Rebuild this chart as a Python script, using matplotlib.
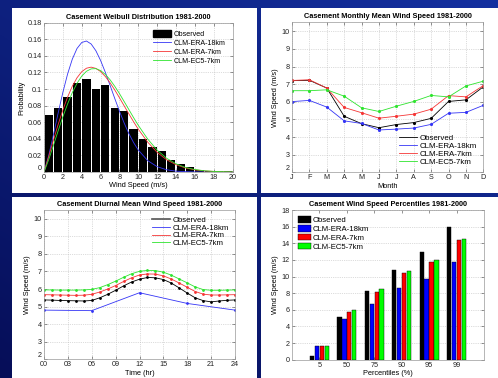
import numpy as np
import matplotlib.pyplot as plt
from matplotlib.patches import Rectangle, Patch
from matplotlib.lines import Line2D
from matplotlib.ticker import FormatStrFormatter

plt.rcParams['font.family'] = ['Liberation Sans', 'DejaVu Sans']

# --- Weibull distribution (top left) ---
bin_centres = [0.5, 1.5, 2.5, 3.5, 4.5, 5.5, 6.5, 7.5, 8.5, 9.5,
               10.5, 11.5, 12.5, 13.5, 14.5, 15.5, 16.5, 17.5, 18.5, 19.5]
obs_prob = [0.069, 0.077, 0.091, 0.107, 0.112, 0.100, 0.105, 0.077, 0.073, 0.052,
            0.040, 0.030, 0.025, 0.015, 0.010, 0.006, 0.003, 0.001, 0.0015, 0.0008]
ws = [0, 0.5, 1, 1.5, 2, 2.5, 3, 3.5, 4, 4.5, 5, 5.5, 6, 6.5, 7, 7.5, 8, 8.5,
      9, 9.5, 10, 11, 12, 13, 14, 15, 16, 17, 18, 19, 20]
pdf_era18 = [0, 0.0199, 0.0450, 0.0711, 0.0960, 0.1181, 0.1360, 0.1489, 0.1561, 0.1579,
             0.1543, 0.1462, 0.1345, 0.1203, 0.1047, 0.0888, 0.0734, 0.0591, 0.0463, 0.0355,
             0.0265, 0.0137, 0.0064, 0.0027, 0.0010, 0.0004, 0.0001, 0, 0, 0, 0]
pdf_era7 = [0, 0.0188, 0.0384, 0.0573, 0.0748, 0.0903, 0.1034, 0.1136, 0.1209, 0.1251,
            0.1264, 0.1249, 0.1211, 0.1152, 0.1077, 0.0990, 0.0896, 0.0798, 0.0701, 0.0606,
            0.0516, 0.0360, 0.0237, 0.0148, 0.0088, 0.0049, 0.0026, 0.0013, 0.0007, 0.0003, 0.0001]
pdf_ec5 = [0, 0.0150, 0.0322, 0.0497, 0.0666, 0.0820, 0.0957, 0.1069, 0.1156, 0.1214,
           0.1243, 0.1246, 0.1223, 0.1177, 0.1113, 0.1034, 0.0946, 0.0850, 0.0753, 0.0656,
           0.0563, 0.0397, 0.0264, 0.0166, 0.0099, 0.0055, 0.0030, 0.0015, 0.0007, 0.0003, 0.0001]

# --- monthly mean (top right) ---
months = ['J', 'F', 'M', 'A', 'M', 'J', 'J', 'A', 'S', 'O', 'N', 'D']
mon_obs = [7.20, 7.22, 6.78, 5.18, 4.76, 4.53, 4.71, 4.82, 5.06, 6.02, 6.11, 6.85]
mon_era18 = [6.01, 6.08, 5.70, 4.92, 4.77, 4.40, 4.45, 4.51, 4.72, 5.35, 5.40, 5.80]
mon_era7 = [7.21, 7.25, 6.78, 5.68, 5.38, 5.07, 5.18, 5.30, 5.58, 6.35, 6.28, 6.92]
mon_ec5 = [6.63, 6.63, 6.68, 6.32, 5.66, 5.45, 5.75, 6.02, 6.36, 6.28, 6.90, 7.17]

# --- diurnal mean (bottom left) ---
hours = list(range(25))
di_obs = [5.38, 5.37, 5.35, 5.34, 5.33, 5.32, 5.35, 5.50, 5.70, 5.93, 6.18, 6.40, 6.56,
          6.66, 6.64, 6.54, 6.34, 6.06, 5.77, 5.50, 5.34, 5.27, 5.32, 5.36, 5.38]
di_era7 = [5.68, 5.67, 5.66, 5.65, 5.64, 5.65, 5.70, 5.83, 6.00, 6.20, 6.43, 6.64, 6.80,
           6.86, 6.85, 6.75, 6.57, 6.34, 6.10, 5.86, 5.71, 5.66, 5.66, 5.67, 5.68]
di_ec5 = [5.95, 5.95, 5.94, 5.94, 5.94, 5.95, 5.98, 6.08, 6.25, 6.45, 6.67, 6.87, 7.01,
          7.06, 7.05, 6.96, 6.79, 6.57, 6.35, 6.12, 5.97, 5.93, 5.93, 5.94, 5.95]
hours6 = [0, 6, 12, 18, 24]
di_era18 = [4.80, 4.77, 5.79, 5.18, 4.80]

# --- percentiles (bottom right) ---
pct_labels = ['5', '50', '75', '90', '95', '99']
pct_obs = [0.48, 5.17, 8.26, 10.83, 12.91, 16.0]
pct_era18 = [1.60, 4.86, 6.74, 8.62, 9.70, 11.79]
pct_era7 = [1.60, 5.73, 8.10, 10.38, 11.79, 14.35]
pct_ec5 = [1.68, 6.02, 8.46, 10.63, 11.95, 14.47]

names = ['CLM-ERA-18km', 'CLM-ERA-7km', 'CLM-EC5-7km']
line_cols = ['#3535f5', '#f53535', '#2ee42e']
bar_cols = ['#0000ff', '#ff0000', '#00ff00']

fig = plt.figure(figsize=(4.98, 3.78), dpi=100)

# blue slide background with white panels
bg = fig.add_axes([0, 0, 1, 1])
bg.axis('off')
yy, xx = np.mgrid[0:1:200j, 0:1:200j]
t = np.clip(0.55 * yy + 0.45 * (1 - xx), 0, 1)[..., None]
top = np.array([20, 48, 160]) / 255
bot = np.array([6, 14, 88]) / 255
bg.imshow(top * (1 - t) + bot * t, extent=[0, 1, 0, 1], aspect='auto')
W, H = 498, 378
for x0, y0, x1, y1 in [(12, 8, 257, 193), (261, 8, 498, 193),
                       (12, 197, 257, 378), (261, 197, 498, 378)]:
    bg.add_patch(Rectangle((x0 / W, 1 - y1 / H), (x1 - x0) / W, (y1 - y0) / H,
                           fc='white', ec='none'))
bg.set_xlim(0, 1)
bg.set_ylim(0, 1)


def style(ax, title, raise_first=True):
    ax.set_title(title, fontsize=5.3, fontweight='bold', pad=3)
    ax.tick_params(direction='in', length=2, width=0.4, labelsize=5.2,
                   colors='#444444', labelcolor='#222222', top=True, right=True, pad=1.5)
    for s in ax.spines.values():
        s.set_color('#999999')
        s.set_linewidth(0.5)
    ax.grid(True, ls=':', color='#bbbbbb', lw=0.5)
    ax.set_axisbelow(True)
    if raise_first:
        # lowest y label sits a little above the axis, as in the original
        fig.canvas.draw()
        ax.get_yticklabels()[0].set_va('bottom')


# top left
ax1 = fig.add_axes([0.0884, 0.545, 0.3785, 0.395])
ax1.bar(bin_centres, obs_prob, width=0.88, color='black', label='Observed')
ax1.plot(ws, pdf_era18, color=line_cols[0], lw=0.6)
ax1.plot(ws, pdf_era7, color=line_cols[1], lw=0.6)
ax1.plot(ws, pdf_ec5, color=line_cols[2], lw=0.6)
ax1.set_xlim(0, 20)
ax1.set_ylim(0, 0.18)
ax1.set_xticks(np.arange(0, 21, 2))
ax1.set_yticks(np.arange(0, 0.181, 0.02))
ax1.yaxis.set_major_formatter(FormatStrFormatter('%g'))
ax1.set_xlabel('Wind Speed (m/s)', fontsize=5.3, labelpad=1)
ax1.set_ylabel('Probability', fontsize=5.3, labelpad=2)
style(ax1, 'Casement Weibull Distribution 1981-2000')
h1 = [Patch(fc='black', ec='black')] + [Line2D([], [], color=c, lw=0.6) for c in line_cols]
ax1.legend(h1, ['Observed'] + names, loc='upper right', fontsize=5.1, frameon=False,
           handlelength=2.6, handleheight=1.2, labelspacing=0.15, handletextpad=0.3,
           borderaxespad=0.6)

# top right
ax2 = fig.add_axes([0.5863, 0.5442, 0.3842, 0.3963])
mx = np.arange(1, 13)
ax2.plot(mx, mon_obs, color='black', lw=0.6, marker='.', ms=2.5)
ax2.plot(mx, mon_era18, color=line_cols[0], lw=0.6, marker='.', ms=2.5)
ax2.plot(mx, mon_era7, color=line_cols[1], lw=0.6, marker='.', ms=2.5)
ax2.plot(mx, mon_ec5, color=line_cols[2], lw=0.6, marker='.', ms=2.5)
ax2.set_xlim(1, 12)
ax2.set_ylim(2, 10.5)
ax2.set_xticks(mx)
ax2.set_xticklabels(months)
ax2.set_yticks(range(2, 11))
ax2.set_xlabel('Month', fontsize=5.3, labelpad=1)
ax2.set_ylabel('Wind Speed (m/s)', fontsize=5.3, labelpad=2)
style(ax2, 'Casement Monthly Mean Wind Speed 1981-2000')
h2 = [Line2D([], [], color=c, lw=0.6) for c in ['black'] + line_cols]
ax2.legend(h2, ['Observed'] + names, loc='lower right', fontsize=5.7, frameon=False,
           handlelength=2.3, labelspacing=0.05, handletextpad=0.3, borderaxespad=0.4)

# bottom left
ax3 = fig.add_axes([0.0884, 0.0495, 0.3835, 0.3949])
ax3.plot(hours, di_obs, color='black', lw=0.6, marker='.', ms=2)
ax3.plot(hours6, di_era18, color=line_cols[0], lw=0.6, marker='.', ms=2)
ax3.plot(hours, di_era7, color=line_cols[1], lw=0.6, marker='.', ms=2)
ax3.plot(hours, di_ec5, color=line_cols[2], lw=0.6, marker='.', ms=2)
ax3.set_xlim(0, 24)
ax3.set_ylim(2, 10.5)
ax3.set_xticks(range(0, 25, 3))
ax3.set_xticklabels(['%02d' % h for h in range(0, 25, 3)])
ax3.set_yticks(range(2, 11))
ax3.set_xlabel('Time (hr)', fontsize=5.3, labelpad=1)
ax3.set_ylabel('Wind Speed (m/s)', fontsize=5.3, labelpad=2)
style(ax3, 'Casement Diurnal Mean Wind Speed 1981-2000')
h3 = [Line2D([], [], color='#555555', lw=1.2)] + [Line2D([], [], color=c, lw=0.6) for c in line_cols]
ax3.legend(h3, ['Observed'] + names, loc='upper right', fontsize=5.6, frameon=False,
           handlelength=2.3, labelspacing=0.05, handletextpad=0.3, borderaxespad=0.4)

# bottom right
ax4 = fig.add_axes([0.5863, 0.0484, 0.3855, 0.396])
px = np.arange(1, 7)
bw = 0.16
for k, (vals, col, lab) in enumerate(zip([pct_obs, pct_era18, pct_era7, pct_ec5],
                                         ['black'] + bar_cols, ['Observed'] + names)):
    ax4.bar(px + (k - 1.5) * 0.18, vals, width=bw, color=col, ec='black', lw=0.3, label=lab)
ax4.set_xlim(0, 7)
ax4.set_ylim(0, 18)
ax4.set_xticks(px)
ax4.set_xticklabels(pct_labels)
ax4.set_yticks(range(0, 19, 2))
ax4.set_xlabel('Percentiles (%)', fontsize=5.3, labelpad=1)
ax4.set_ylabel('Wind Speed (m/s)', fontsize=5.3, labelpad=2)
style(ax4, 'Casement Wind Speed Percentiles 1981-2000', raise_first=False)
ax4.grid(False, axis='x')
ax4.legend(loc='upper left', fontsize=5.6, frameon=False, handlelength=1.6, handleheight=0.9,
           labelspacing=0.12, handletextpad=0.3, borderaxespad=0.4)

fig.savefig('out.png', dpi=100)
